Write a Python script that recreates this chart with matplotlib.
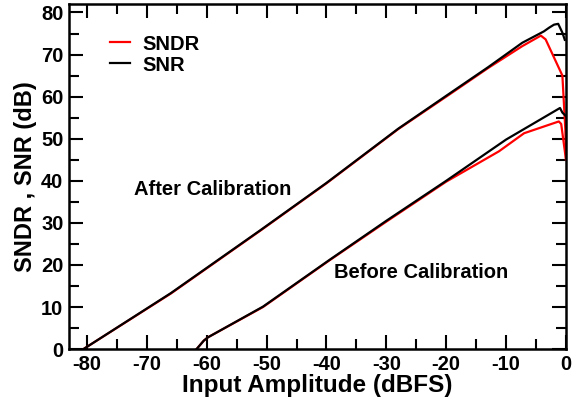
import matplotlib
matplotlib.use("Agg")
import matplotlib.pyplot as plt
from matplotlib.ticker import MultipleLocator

plt.rcParams['font.family'] = ['Liberation Sans', 'DejaVu Sans']
plt.rcParams['font.weight'] = 'bold'
plt.rcParams['axes.unicode_minus'] = False

# After calibration
after_snr_x = [-80.6, -66, -51, -40, -28, -20, -13, -7.3, -3.7, -2.8, -2.0, -1.3, -0.6, -0.2]
after_snr_y = [0, 13.3, 28.3, 39.5, 52.4, 60.2, 67.0, 72.8, 75.5, 76.4, 77.1, 77.3, 75.2, 73.5]
after_sndr_x = [-80.6, -66, -51, -40, -28, -20, -13, -7.3, -4.2, -3.4, -0.6, -0.1, 0.0]
after_sndr_y = [0, 13.2, 28.2, 39.4, 52.3, 60.0, 66.8, 72.0, 74.5, 73.6, 65.0, 52.0, 45.0]

# Before calibration
before_snr_x = [-61.7, -60.5, -59.8, -50.6, -39.5, -30, -20, -10, -1.0, -0.6, -0.1]
before_snr_y = [0, 2.0, 2.8, 10.1, 21.2, 30.5, 40.0, 49.8, 57.3, 56.2, 55.5]
before_sndr_x = [-61.7, -60.5, -59.8, -50.6, -39.5, -30, -20, -11.2, -7.0, -1.2, -0.8, 0.0]
before_sndr_y = [0, 2.0, 2.8, 10.0, 21.1, 30.3, 39.8, 47.0, 51.3, 54.1, 53.5, 45.0]

series_labels = ['SNDR', 'SNR']
annotations = ['After Calibration', 'Before Calibration']
xlabel = 'Input Amplitude (dBFS)'
ylabel = 'SNDR , SNR (dB)'

fig = plt.figure(figsize=(5.85, 4.05), dpi=100)
ax = fig.add_axes([0.118, 0.138, 0.8495, 0.852])

lw = 1.6
l1, = ax.plot(after_sndr_x, after_sndr_y, color='#ff0000', lw=lw, label=series_labels[0], zorder=2)
l2, = ax.plot(after_snr_x, after_snr_y, color='black', lw=lw, label=series_labels[1], zorder=3)
ax.plot(before_sndr_x, before_sndr_y, color='#ff0000', lw=lw, zorder=2)
ax.plot(before_snr_x, before_snr_y, color='black', lw=lw, zorder=3)

ax.set_xlim(-83, 0)
ax.set_ylim(0, 82)
ax.xaxis.set_major_locator(MultipleLocator(10))
ax.xaxis.set_minor_locator(MultipleLocator(5))
ax.yaxis.set_major_locator(MultipleLocator(10))
ax.yaxis.set_minor_locator(MultipleLocator(5))
ax.tick_params(which='both', direction='in', top=True, right=True, width=1.5, labelsize=14.5)
ax.tick_params(which='major', length=10, pad=4)
ax.tick_params(which='minor', length=7)
for lab in ax.get_xticklabels() + ax.get_yticklabels():
    lab.set_fontweight('bold')
for sp in ax.spines.values():
    sp.set_linewidth(1.8)

ax.set_xlabel(xlabel, fontsize=17.5, fontweight='bold', labelpad=0)
ax.set_ylabel(ylabel, fontsize=17, fontweight='bold', labelpad=3)

ax.text(-59, 37.9, annotations[0], fontsize=14.5, fontweight='bold', ha='center', va='center')
ax.text(-24.2, 18.1, annotations[1], fontsize=14.5, fontweight='bold', ha='center', va='center')

leg = ax.legend(handles=[l1, l2], loc='upper left', bbox_to_anchor=(0.066, 0.935), frameon=False,
                fontsize=14.5, handlelength=1.0, handletextpad=0.6, labelspacing=0.1, borderaxespad=0)
for t in leg.get_texts():
    t.set_fontweight('bold')

fig.savefig('out.png', dpi=100)
